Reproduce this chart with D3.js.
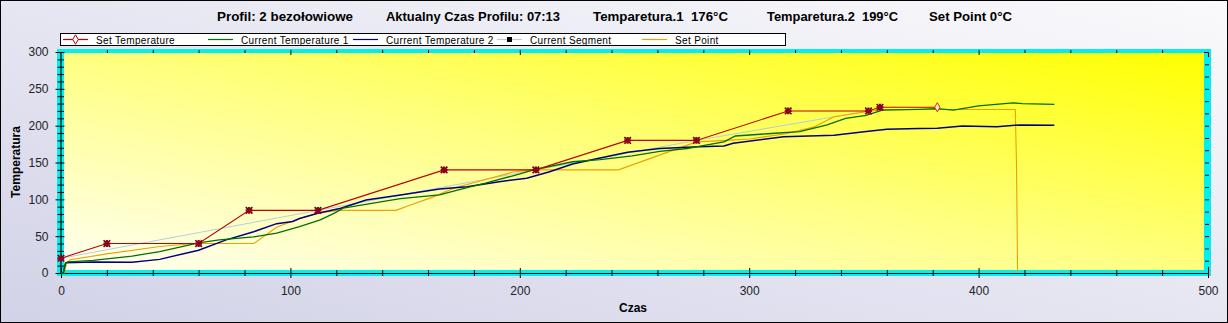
<!DOCTYPE html>
<html>
<head>
<meta charset="utf-8">
<script src="https://cdn.jsdelivr.net/npm/d3@7"></script>
<style>
  html, body { margin: 0; padding: 0; background: #fff; }
  svg { display: block; font-family: "Liberation Sans", Arial, sans-serif; }
</style>
</head>
<body>
<svg id="chart" width="1228" height="323"></svg>
<script>
// ---- data -------------------------------------------------------------
const headerTexts = [
  "Profil: 2 bezołowiowe",
  "Aktualny Czas Profilu: 07:13",
  "Temparetura.1  176°C",
  "Temparetura.2  199°C",
  "Set Point 0°C"
];
const legendNames = ["Set Temperature", "Current Temperature 1", "Current Temperature 2", "Current Segment", "Set Point"];
const xTickLabels = [0, 100, 200, 300, 400, 500];
const yTickLabels = [0, 50, 100, 150, 200, 250, 300];

// profile set temperature (time s, °C)
const setTime = [0, 20, 60, 82, 112, 167, 207, 247, 277, 317, 352, 357, 382];
const setTemp = [20, 40, 40, 85, 85, 140, 140, 180, 180, 220, 220, 225, 225];

// current segment guide
const segTime = [0, 112, 207, 277, 352];
const segTemp = [20, 85, 140, 180, 220];

// measured temperature 1
const cur1Time = [0, 1, 2, 3, 14, 31, 43, 60, 69, 84, 94, 104, 113, 119, 123, 140, 148, 165, 177, 185, 197, 206, 223, 235, 249, 261, 273, 278, 289, 294, 308, 322, 334, 342, 351, 358, 374, 382, 389, 400, 415, 419, 433];
const cur1Temp = [0, 0, 14, 15, 17, 23, 29, 41, 45, 49, 54, 63, 72, 81, 88, 97, 101, 106, 116, 122, 132, 140, 151, 154, 159, 165, 169, 172, 178, 186, 189, 192, 201, 210, 214, 221, 222, 223, 221, 227, 231, 230, 229];

// measured temperature 2
const cur2Time = [0, 1, 2, 14, 31, 43, 60, 72, 84, 94, 101, 104, 112, 122, 133, 148, 165, 177, 191, 203, 213, 223, 235, 247, 261, 278, 289, 293, 315, 337, 351, 360, 374, 382, 393, 408, 418, 433];
const cur2Temp = [0, 0, 14, 15, 14.5, 18.5, 31, 45, 56, 67, 70, 74, 81, 88, 99, 106, 114, 117, 124, 128.5, 137.5, 148, 156, 164, 169, 171.5, 172.5, 176, 185, 187, 192, 195, 196, 196.5, 199.5, 198.5, 201, 200.5];

// controller set point
const spTime = [0, 1.5, 2.5, 4, 20, 43, 58, 84, 94, 104, 113, 121, 146, 152, 162, 172, 184, 197, 205, 243, 277, 290, 300, 316, 328, 337, 351, 358, 416, 416.5, 417];
const spTemp = [0, 0, 14, 18, 26, 36, 40, 40, 62, 74, 82, 85, 85, 92, 103, 116, 126, 137, 140, 140, 178, 180, 182, 189, 198, 212, 219, 222, 222, 150, 0];

// ---- drawing ----------------------------------------------------------
const W = 1228, H = 323;
const svg = d3.select("#chart");
const defs = svg.append("defs");

const bgGrad = defs.append("linearGradient").attr("id", "bgGrad")
  .attr("x1", 0).attr("y1", 1).attr("x2", 1).attr("y2", 0);
bgGrad.append("stop").attr("offset", 0).attr("stop-color", "#d2d2e8");
bgGrad.append("stop").attr("offset", 1).attr("stop-color", "#fafafc");

const plotGrad = defs.append("linearGradient").attr("id", "plotGrad")
  .attr("x1", 0).attr("y1", 1).attr("x2", 1).attr("y2", 0);
plotGrad.append("stop").attr("offset", 0).attr("stop-color", "#fffff2");
plotGrad.append("stop").attr("offset", 0.5).attr("stop-color", "#ffff80");
plotGrad.append("stop").attr("offset", 1).attr("stop-color", "#ffff00");

svg.append("rect").attr("x", 0.5).attr("y", 0.5).attr("width", W - 1).attr("height", H - 1)
  .attr("fill", "url(#bgGrad)").attr("stroke", "#000");

const x = d3.scaleLinear().domain([0, 500]).range([61, 1208]);
const y = d3.scaleLinear().domain([0, 300]).range([273, 52]);

// cyan frame and yellow plot area
svg.append("rect").attr("x", 57).attr("y", 49).attr("width", 1211 - 57).attr("height", 276 - 49)
  .attr("fill", "#00f0f0");
svg.append("rect").attr("x", 64).attr("y", 53).attr("width", 1204 - 64).attr("height", 270 - 53)
  .attr("fill", "url(#plotGrad)");

// title line
const headerX = [217, 386, 593, 767, 929];
const headerW = [136, 174, 135, 131, 83];
svg.append("g").selectAll("text").data(headerTexts).join("text")
  .attr("x", (d, i) => headerX[i]).attr("y", 21)
  .attr("textLength", (d, i) => headerW[i]).attr("lengthAdjust", "spacingAndGlyphs")
  .attr("font-size", 13).attr("font-weight", "bold").attr("fill", "#000")
  .style("white-space", "pre")
  .text(d => d);

// axes
const xAxis = svg.append("g").attr("transform", "translate(0,273)")
  .call(d3.axisBottom(x).tickValues(xTickLabels).tickSizeInner(5).tickSizeOuter(0).tickPadding(8));
xAxis.select(".domain").attr("stroke", "#000").attr("stroke-width", 1.2);
xAxis.selectAll(".tick line").attr("stroke", "#000").attr("y1", -5);
xAxis.selectAll("text").attr("font-size", 12).attr("fill", "#222")
  .attr("font-family", "'Liberation Sans', Arial, sans-serif");

svg.append("g").selectAll("line").data(d3.range(20, 500, 20).filter(v => v % 100 !== 0)).join("line")
  .attr("x1", d => x(d) + 0.5).attr("x2", d => x(d) + 0.5).attr("y1", 270).attr("y2", 276)
  .attr("stroke", "#000");

const yAxis = svg.append("g").attr("transform", "translate(60.5,0)")
  .call(d3.axisLeft(y).tickValues(yTickLabels).tickSizeInner(5).tickSizeOuter(0).tickPadding(7));
yAxis.select(".domain").attr("stroke", "#000").attr("stroke-width", 1.2);
yAxis.selectAll(".tick line").attr("stroke", "#000").attr("x2", 4).attr("x1", -5);
yAxis.selectAll("text").attr("font-size", 12).attr("fill", "#222")
  .attr("font-family", "'Liberation Sans', Arial, sans-serif");

svg.append("g").selectAll("line").data(d3.range(10, 300, 10).filter(v => v % 50 !== 0)).join("line")
  .attr("x1", 57.5).attr("x2", 64).attr("y1", d => y(d) + 0.5).attr("y2", d => y(d) + 0.5)
  .attr("stroke", "#000");

// top edge ticks
svg.append("g").selectAll("line").data(d3.range(20, 500, 20)).join("line")
  .attr("x1", d => x(d) + 0.5).attr("x2", d => x(d) + 0.5)
  .attr("y1", 50).attr("y2", d => d % 100 === 0 ? 55 : 53)
  .attr("stroke", "#000");
// right edge ticks
svg.append("g").selectAll("line").data(d3.range(1, 18).map(i => i * 300 / 18)).join("line")
  .attr("x1", 1205).attr("x2", 1209).attr("y1", d => y(d) + 0.5).attr("y2", d => y(d) + 0.5)
  .attr("stroke", "#000");
svg.append("path").attr("d", `M1204,${y(300) + 0.5}H1208.5V${y(300) + 5}`).attr("fill", "none").attr("stroke", "#000");
svg.append("line").attr("x1", 1208.5).attr("x2", 1208.5).attr("y1", y(0) - 6).attr("y2", y(0)).attr("stroke", "#000");

// axis titles
svg.append("text").attr("x", 633).attr("y", 312).attr("text-anchor", "middle")
  .attr("font-size", 12).attr("font-weight", "bold").text("Czas");
svg.append("text").attr("transform", "translate(20,162) rotate(-90)").attr("text-anchor", "middle")
  .attr("font-size", 12).attr("font-weight", "bold").text("Temperatura");

// series
const line = d3.line().x(d => x(d[0])).y(d => y(d[1]));
const zip = (a, b) => a.map((v, i) => [v, b[i]]);
const plot = svg.append("g");

plot.append("path").datum(zip(segTime, segTemp)).attr("d", line)
  .attr("fill", "none").attr("stroke", "#b4cfd8").attr("stroke-width", 1);
plot.append("path").datum(zip(spTime, spTemp)).attr("d", line)
  .attr("fill", "none").attr("stroke", "#eea000").attr("stroke-width", 1.1);
plot.append("path").datum(zip(cur2Time, cur2Temp)).attr("d", line)
  .attr("fill", "none").attr("stroke", "#000080").attr("stroke-width", 1.5);
plot.append("path").datum(zip(cur1Time, cur1Temp)).attr("d", line)
  .attr("fill", "none").attr("stroke", "#007000").attr("stroke-width", 1.3);
plot.append("path").datum(zip(setTime, setTemp)).attr("d", line)
  .attr("fill", "none").attr("stroke", "#c00000").attr("stroke-width", 1.1);

// set temperature markers: reached points as stars, the last one open
const setPts = zip(setTime, setTemp);
const star = d3.symbol().type(d3.symbolX).size(30);
plot.append("g").selectAll("g").data(setPts.slice(0, -1)).join("g")
  .attr("transform", d => `translate(${x(d[0])},${y(d[1])})`)
  .each(function () {
    const g = d3.select(this);
    g.append("path").attr("d", star()).attr("stroke", "#700010").attr("stroke-width", 1.6).attr("fill", "none");
    g.append("path").attr("d", d3.symbol().type(d3.symbolCross).size(26)()).attr("fill", "#900020");
  });
plot.append("path").datum(setPts[setPts.length - 1])
  .attr("transform", d => `translate(${x(d[0])},${y(d[1])})`)
  .attr("d", d3.symbol().type(d3.symbolDiamond).size(24)())
  .attr("fill", "#fff8c0").attr("stroke", "#e02020").attr("stroke-width", 1);

// legend
const legend = svg.append("g");
legend.append("rect").attr("x", 60.5).attr("y", 33.5).attr("width", 725).attr("height", 12)
  .attr("fill", "#fff").attr("stroke", "#000");
const legX = [63, 208, 353, 497, 642];
const legColors = ["#c00000", "#007000", "#000080", "#b4cfd8", "#eea000"];
const items = legend.selectAll("g.item").data(legendNames).join("g").attr("class", "item")
  .attr("transform", (d, i) => `translate(${legX[i]},0)`);
items.append("line").attr("x1", 0).attr("x2", 25).attr("y1", 39.5).attr("y2", 39.5)
  .attr("stroke", (d, i) => legColors[i]).attr("stroke-width", 1.2);
items.append("text").attr("x", 33).attr("y", 43.5).attr("font-size", 10).attr("letter-spacing", 0.35)
  .attr("fill", "#000").text(d => d);
items.filter((d, i) => i === 0).append("path").attr("transform", "translate(12.5,39.5)")
  .attr("d", d3.symbol().type(d3.symbolDiamond).size(26)()).attr("fill", "#fff").attr("stroke", "#c00000");
items.filter((d, i) => i === 3).append("rect").attr("x", 10).attr("y", 37).attr("width", 5).attr("height", 5)
  .attr("fill", "#000");
</script>
</body>
</html>
